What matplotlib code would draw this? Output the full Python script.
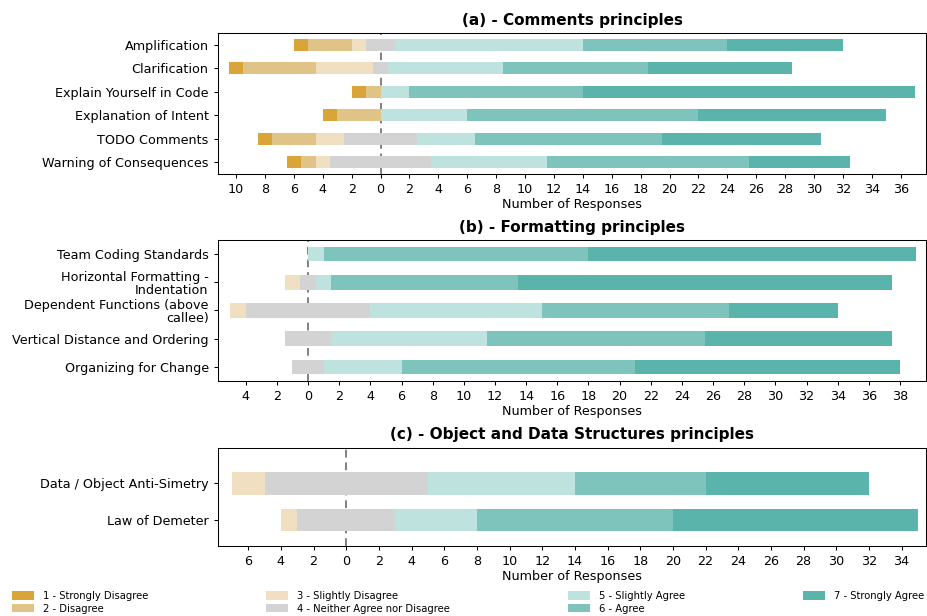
import numpy as np
import matplotlib
matplotlib.use("Agg")
import matplotlib.pyplot as plt
from matplotlib.patches import Patch

# =========================================================
# DATA  (counts per answer level, order: 1..7)
# =========================================================

levels = ["1 - Strongly Disagree", "2 - Disagree", "3 - Slightly Disagree",
          "4 - Neither Agree nor Disagree", "5 - Slightly Agree", "6 - Agree",
          "7 - Strongly Agree"]

colors = ["#d9a538", "#e0c386", "#f0e0c1", "#d3d3d3", "#bee2de", "#7ec4bc", "#5ab4ab"]

labels_a = ["Amplification", "Clarification", "Explain Yourself in Code",
            "Explanation of Intent", "TODO Comments", "Warning of Consequences"]
counts_a = [[1, 3, 1, 2, 13, 10, 8],
            [1, 5, 4, 1, 8, 10, 10],
            [1, 1, 0, 0, 2, 12, 23],
            [1, 3, 0, 0, 6, 16, 13],
            [1, 3, 2, 5, 4, 13, 11],
            [1, 1, 1, 7, 8, 14, 7]]

labels_b = ["Team Coding Standards", "Horizontal Formatting -\nIndentation",
            "Dependent Functions (above\ncallee)", "Vertical Distance and Ordering",
            "Organizing for Change"]
counts_b = [[0, 0, 0, 0, 1, 17, 21],
            [0, 0, 1, 1, 1, 12, 24],
            [0, 0, 1, 8, 11, 12, 7],
            [0, 0, 0, 3, 10, 14, 12],
            [0, 0, 0, 2, 5, 15, 17]]

labels_c = ["Data / Object Anti-Simetry", "Law of Demeter"]
counts_c = [[0, 0, 2, 10, 9, 8, 10],
            [0, 0, 1, 6, 5, 12, 15]]

titles = ["(a) - Comments principles", "(b) - Formatting principles",
          "(c) - Object and Data Structures principles"]

# =========================================================
# FIGURE
# =========================================================

fig = plt.figure(figsize=(9.27, 6.16), dpi=100)

ax_a = fig.add_axes([0.2352, 0.7175, 0.7638, 0.2289])
ax_b = fig.add_axes([0.2352, 0.3815, 0.7638, 0.2289])
ax_c = fig.add_axes([0.2352, 0.1136, 0.7638, 0.1596])


def likert(ax, labels, counts, title, xlim, ylim, ticks, height):
    counts = np.array(counts, dtype=float)
    y = np.arange(len(labels))
    left = -(counts[:, 0] + counts[:, 1] + counts[:, 2] + counts[:, 3] / 2)

    ax.axvline(0, color="gray", linestyle=(0, (4, 2.5)), linewidth=1.4, zorder=0)

    for i in range(7):
        ax.barh(y, counts[:, i], left=left, height=height,
                color=colors[i], zorder=2)
        left = left + counts[:, i]

    ax.set_yticks(y)
    ax.set_yticklabels(labels, linespacing=1.0)
    ax.set_ylim(*ylim)
    ax.set_xlim(*xlim)
    ax.set_xticks(ticks)
    ax.set_xticklabels([str(abs(int(t))) for t in ticks])
    ax.tick_params(labelsize=9.2, length=3.2, width=0.75)
    ax.set_xlabel("Number of Responses", fontsize=9.2, labelpad=1)
    ax.set_title(title, fontsize=11, fontweight="bold", pad=6)
    for s in ax.spines.values():
        s.set_linewidth(0.75)


likert(ax_a, labels_a, counts_a, titles[0], (-11.25, 37.75), (5.5, -0.5),
       np.arange(-10, 37, 2), 0.5)
likert(ax_b, labels_b, counts_b, titles[1], (-5.78, 39.67), (4.5, -0.5),
       np.arange(-4, 39, 2), 0.52)
likert(ax_c, labels_c, counts_c, titles[2], (-7.85, 35.5), (1.72, -0.98),
       np.arange(-6, 35, 2), 0.62)

# =========================================================
# LEGEND
# =========================================================

handles = [Patch(facecolor=c, edgecolor="none") for c in colors]

fig.legend(handles, levels, loc="lower left", ncol=4, mode="expand",
           bbox_to_anchor=(0.008, -0.004, 0.994, 0.06), frameon=False,
           prop={"size": 8, "stretch": "condensed"},
           handlelength=2.0, handleheight=0.8, labelspacing=0.25,
           borderaxespad=0.0)

fig.savefig("out.png", dpi=100)
